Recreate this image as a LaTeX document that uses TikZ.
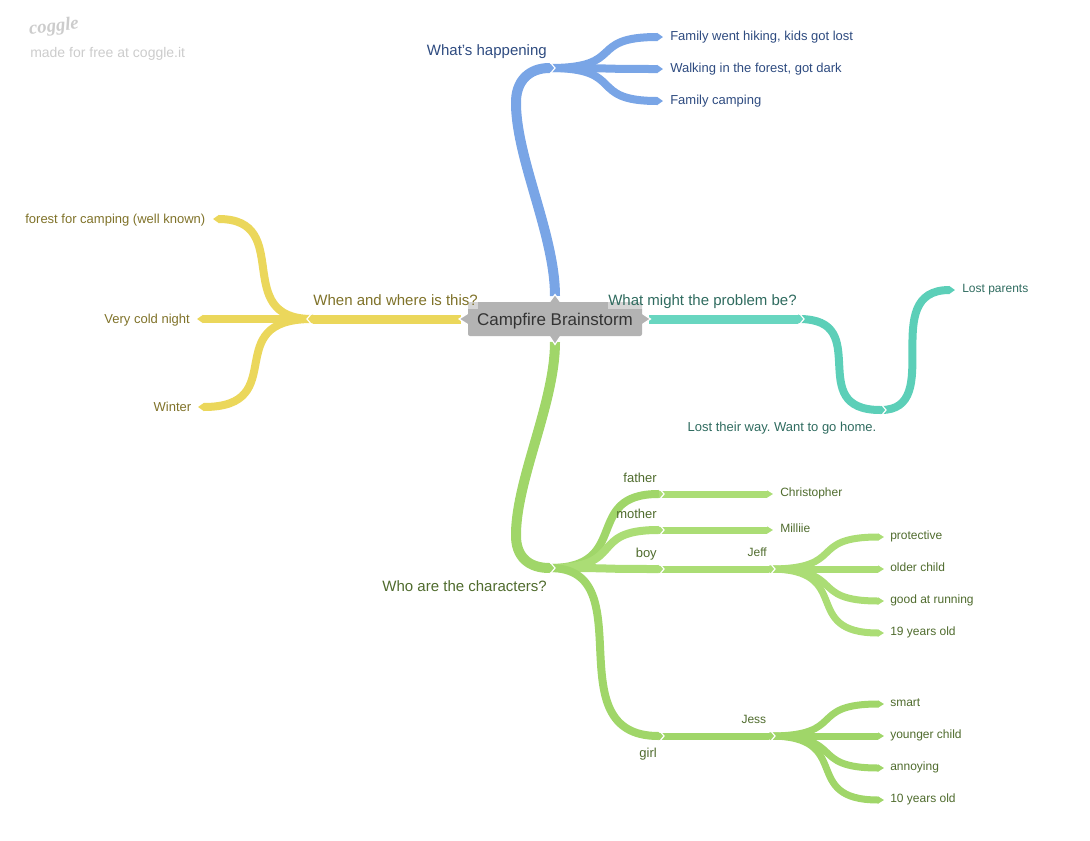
\documentclass[tikz,border=0pt]{standalone}
\usepackage{fontspec}
\setmainfont{Liberation Sans}
\newfontfamily\logofont{Liberation Serif}
\usetikzlibrary{arrows.meta,calc}
\definecolor{cblue}{HTML}{79A5E6}
\definecolor{cyel}{HTML}{EBD75B}
\definecolor{cteal}{HTML}{68D6C0}
\definecolor{cteald}{HTML}{5CCFB8}
\definecolor{cgrn}{HTML}{A0D669}
\definecolor{cgrnl}{HTML}{ABDD75}
\definecolor{tblue}{HTML}{2E4B80}
\definecolor{tyel}{HTML}{7F7229}
\definecolor{tteal}{HTML}{2F6B5F}
\definecolor{tgrn}{HTML}{4F6B2D}
\definecolor{cbox}{HTML}{B3B3B3}
\definecolor{clogo}{HTML}{CCCCCC}
\tikzset{
  brn/.style={line width=#1*0.75pt,-{Triangle[length=4.5pt,width=#1*0.75pt]}},
  brn/.default=8,
  lab/.style={inner sep=0pt,yshift=-1.2pt,text height=.75em,text depth=.25em,font=\fontsize{9.75pt}{12pt}\selectfont},
  labs/.style={inner sep=0pt,yshift=-1.2pt,text height=.75em,text depth=.25em,font=\fontsize{9pt}{11pt}\selectfont},
  labb/.style={inner sep=0pt,yshift=-1.2pt,text height=.75em,text depth=.25em,font=\fontsize{11.25pt}{13pt}\selectfont},
  chev/.style={draw=white,line width=0.9pt,line join=miter},
  nub/.style={fill=cbox,draw=white,line width=0.9pt},
  halo/.style={fill=white,fill opacity=.45,text opacity=1},
}
% S-curve between two named points, horizontal at both ends; #1 = how far the controls reach
\newcommand{\scurve}[4][.7]{\draw[#2] let \p1=(#3),\p2=(#4),\p3=($(#3)!#1!(#4)$),\p4=($(#4)!#1!(#3)$) in (#3) .. controls (\x3,\y1) and (\x4,\y2) .. (#4);}
% white chevron whose apex is the named point; #2 = 1 right, -1 left
\newcommand{\chv}[2]{\draw[chev] ([shift={(#2*-5,-6)}]#1) -- (#1) -- ([shift={(#2*-5,6)}]#1);}
\begin{document}
\begin{tikzpicture}[x=0.75pt,y=-0.75pt]
\useasboundingbox (0,0) rectangle (1090,840);
% root ends
\coordinate (rN) at (555,296);
\coordinate (rS) at (555,342);
\coordinate (rW) at (461,319);
\coordinate (rE) at (649,319);
% junction apexes, and the start of what leaves them
\coordinate (jB) at (555,68);   \coordinate (jBs) at (550,68);
\coordinate (jG) at (555,568);  \coordinate (jGs) at (550,568);
\coordinate (jY) at (307,319);  \coordinate (jYs) at (312,319);
\coordinate (jT) at (804,319);  \coordinate (jTs) at (799,319);
\coordinate (jU) at (886,410);  \coordinate (jUs) at (881,410);
\coordinate (gF) at (664,494);  \coordinate (gFs) at (659,494);
\coordinate (gM) at (664,530);  \coordinate (gMs) at (659,530);
\coordinate (gB) at (664,569);  \coordinate (gBs) at (659,569);
\coordinate (gG) at (664,736);  \coordinate (gGs) at (659,736);
\coordinate (gJ) at (775,569);  \coordinate (gJs) at (770,569);
\coordinate (gS) at (775,736);  \coordinate (gSs) at (770,736);
% leaf tips
\coordinate (b1) at (663,37);
\coordinate (b2) at (663,69);
\coordinate (b3) at (663,101);
\coordinate (y1) at (213,219);
\coordinate (y2) at (197,319);
\coordinate (y3) at (198,407);
\coordinate (t1) at (955,290);
\coordinate (gC) at (773,494);
\coordinate (gL) at (773,530);
\coordinate (a1) at (884,537);
\coordinate (a2) at (884,569);
\coordinate (a3) at (884,601);
\coordinate (a4) at (884,633);
\coordinate (e1) at (884,704);
\coordinate (e2) at (884,736);
\coordinate (e3) at (884,768);
\coordinate (e4) at (884,800);
% blue
\scurve[.68]{brn,cblue}{jBs}{b1}
\scurve[.68]{brn,cblue}{jBs}{b2}
\scurve[.68]{brn,cblue}{jBs}{b3}
\draw[brn=10,cblue] (rN) .. controls +(0,-60) and +(1,55) .. (516,105) .. controls +(-1,-25) and +(-25,0) .. (jB);
% yellow
\scurve[.83]{brn,cyel}{jYs}{y1}
\scurve[.83]{brn,cyel}{jYs}{y2}
\scurve[.83]{brn,cyel}{jYs}{y3}
\draw[brn=9,cyel] (rW) -- (jY);
% teal
\draw[brn,cteald] (jTs) .. controls (875,319) and (803,410) .. (jU);
\draw[brn,cteald] (jUs) .. controls (946,410) and (877,290) .. (t1);
\draw[brn=9,cteal] (rE) -- (jT);
% green
\scurve[.72]{brn,cgrn}{jGs}{gF}
\scurve[.68]{brn,cgrnl}{jGs}{gM}
\scurve[.7]{brn,cgrnl}{jGs}{gB}
\draw[brn,cgrn] (jGs) .. controls (645,568) and (553,736) .. (gG);
\draw[brn=10,cgrn] (rS) .. controls +(0,60) and +(1,-55) .. (516,533) .. controls +(-1,25) and +(-25,0) .. (jG);
\draw[brn=7,cgrnl] (gFs) -- (gC);
\draw[brn=7,cgrnl] (gMs) -- (gL);
\draw[brn=7,cgrnl] (gBs) -- (gJ);
\draw[brn=7,cgrn] (gGs) -- (gS);
\scurve[.68]{brn=7,cgrnl}{gJs}{a1}
\scurve[.68]{brn=7,cgrnl}{gJs}{a2}
\scurve[.68]{brn=7,cgrnl}{gJs}{a3}
\scurve[.75]{brn=7,cgrnl}{gJs}{a4}
\scurve[.68]{brn=7,cgrn}{gSs}{e1}
\scurve[.68]{brn=7,cgrn}{gSs}{e2}
\scurve[.68]{brn=7,cgrn}{gSs}{e3}
\scurve[.75]{brn=7,cgrn}{gSs}{e4}
% chevrons
\chv{jB}{1}\chv{jG}{1}\chv{jY}{-1}\chv{jT}{1}\chv{jU}{1}
\chv{gF}{1}\chv{gM}{1}\chv{gB}{1}\chv{gG}{1}\chv{gJ}{1}\chv{gS}{1}
% root
\path[nub] (555,294.5) -- (548,304) -- (562,304) -- cycle;
\path[nub] (555,344.5) -- (548,334) -- (562,334) -- cycle;
\path[nub] (459,319) -- (470,312) -- (470,326) -- cycle;
\path[nub] (650.5,319) -- (640,312) -- (640,326) -- cycle;
\node[fill=cbox,inner sep=0pt,rounded corners=1.5pt,minimum width=130.5pt,minimum height=25.5pt,text height=9.9pt,text depth=0.1pt,text=black!80,font=\fontsize{12.75pt}{15pt}\selectfont] (root) at (555,319) {Campfire Brainstorm};
% logo
\node[inner sep=0pt,text=clogo,rotate=6,font=\logofont\fontsize{14pt}{15pt}\itshape\bfseries\selectfont] (logo) at (54,27) {coggle};
\node[anchor=west,inner sep=0pt,yshift=-1.2pt,text height=.75em,text depth=.25em,text=clogo,font=\fontsize{10.5pt}{12pt}\selectfont] (made) at (30,53) {made for free at coggle.it};
% labels
\node[labb,anchor=east,text=tblue] (n1) at (547,51) {What's happening};
\node[lab,anchor=west,text=tblue] (n2) at (670,36) {Family went hiking, kids got lost};
\node[lab,anchor=west,text=tblue] (n3) at (670,68) {Walking in the forest, got dark};
\node[lab,anchor=west,text=tblue] (n4) at (670,100) {Family camping};
\node[lab,anchor=east,text=tyel] (n5) at (205.5,219) {forest for camping (well known)};
\node[lab,anchor=east,text=tyel] (n6) at (190,319) {Very cold night};
\node[lab,anchor=east,text=tyel] (n7) at (191.5,407) {Winter};
\node[labb,anchor=east,text=tyel,halo] (n8) at (478,301) {When and where is this?};
\node[labb,anchor=west,text=tteal,halo] (n9) at (608,301) {What might the problem be?};
\node[labs,anchor=west,text=tteal] (n10) at (962,288) {Lost parents};
\node[lab,anchor=east,text=tteal] (n11) at (876.5,427) {Lost their way.\ Want to go home.};
\node[labb,anchor=east,text=tgrn] (n12) at (547,587) {Who are the characters?};
\node[lab,anchor=east,text=tgrn] (n13) at (657,478) {father};
\node[lab,anchor=east,text=tgrn] (n14) at (657,514) {mother};
\node[lab,anchor=east,text=tgrn] (n15) at (657,553) {boy};
\node[lab,anchor=east,text=tgrn] (n16) at (657,753) {girl};
\node[labs,anchor=west,text=tgrn] (n17) at (780,492) {Christopher};
\node[labs,anchor=west,text=tgrn] (n18) at (780,528) {Milliie};
\node[labs,anchor=east,text=tgrn] (n19) at (767,552) {Jeff};
\node[labs,anchor=east,text=tgrn] (n20) at (766.5,719) {Jess};
\node[labs,anchor=west,text=tgrn] (n21) at (890,535) {protective};
\node[labs,anchor=west,text=tgrn] (n22) at (890,567) {older child};
\node[labs,anchor=west,text=tgrn] (n23) at (890,599) {good at running};
\node[labs,anchor=west,text=tgrn] (n24) at (890,631) {19 years old};
\node[labs,anchor=west,text=tgrn] (n25) at (890,702) {smart};
\node[labs,anchor=west,text=tgrn] (n26) at (890,734) {younger child};
\node[labs,anchor=west,text=tgrn] (n27) at (890,766) {annoying};
\node[labs,anchor=west,text=tgrn] (n28) at (890,798) {10 years old};
\end{tikzpicture}
\end{document}
